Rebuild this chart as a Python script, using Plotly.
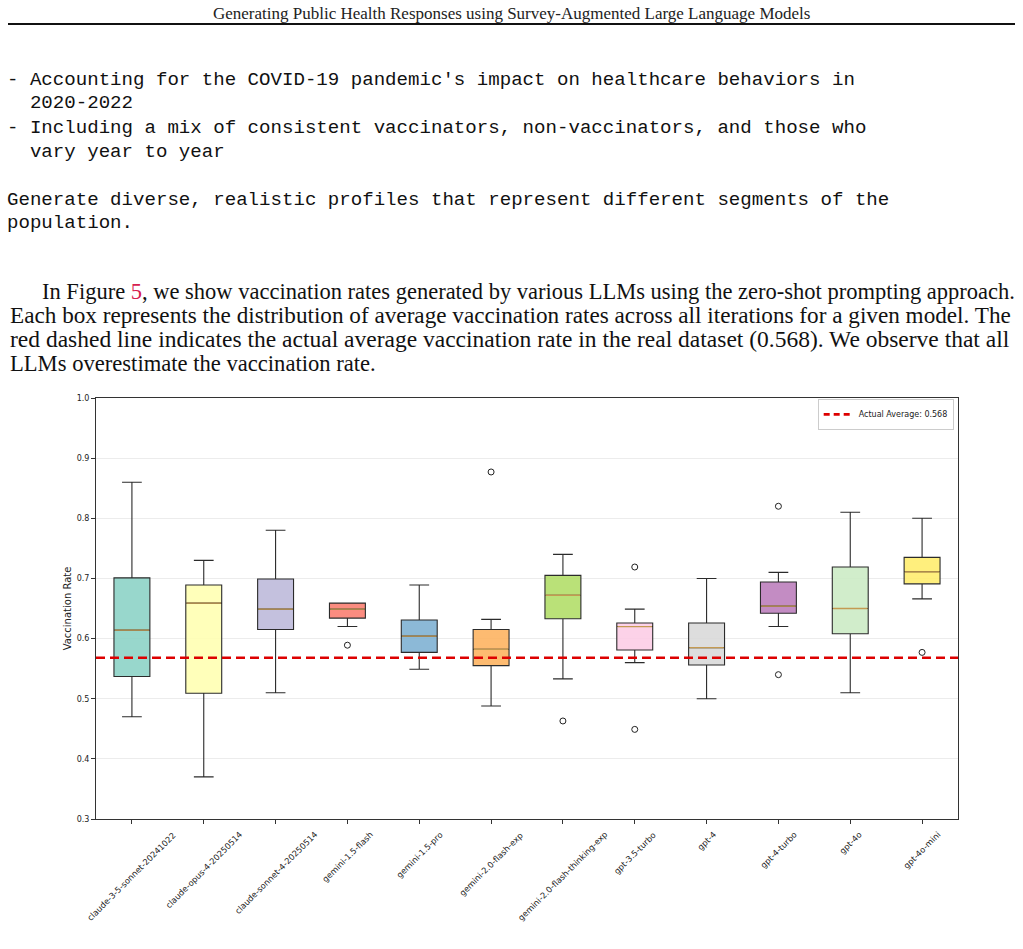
import plotly.graph_objects as go

models = ["claude-3-5-sonnet-20241022", "claude-opus-4-20250514", "claude-sonnet-4-20250514",
          "gemini-1.5-flash", "gemini-1.5-pro", "gemini-2.0-flash-exp", "gemini-2.0-flash-thinking-exp",
          "gpt-3.5-turbo", "gpt-4", "gpt-4-turbo", "gpt-4o", "gpt-4o-mini"]
lower_whisker = [0.470, 0.370, 0.510, 0.620, 0.549, 0.488, 0.533, 0.560, 0.500, 0.620, 0.510, 0.666]
q1 = [0.537, 0.509, 0.615, 0.634, 0.577, 0.555, 0.633, 0.581, 0.556, 0.642, 0.608, 0.691]
median = [0.614, 0.659, 0.649, 0.649, 0.604, 0.582, 0.672, 0.620, 0.585, 0.654, 0.650, 0.711]
q3 = [0.701, 0.689, 0.699, 0.659, 0.631, 0.615, 0.705, 0.626, 0.626, 0.694, 0.719, 0.735]
upper_whisker = [0.860, 0.730, 0.780, 0.659, 0.689, 0.632, 0.740, 0.649, 0.700, 0.710, 0.810, 0.800]
outlier_model_idx = [3, 5, 6, 7, 7, 9, 9, 11]
outlier_values = [0.589, 0.877, 0.463, 0.719, 0.449, 0.820, 0.540, 0.577]
actual_average = 0.568
colors = ["#8dd3c7", "#ffffb3", "#bebada", "#fb8072", "#80b1d3", "#fdb462",
          "#b3de69", "#fccde5", "#d9d9d9", "#bc80bd", "#ccebc5", "#ffed6f"]
y_ticks = [0.3, 0.4, 0.5, 0.6, 0.7, 0.8, 0.9, 1.0]

header = "Generating Public Health Responses using Survey-Augmented Large Language Models"
mono_lines = [
    "- Accounting for the COVID-19 pandemic's impact on healthcare behaviors in",
    "  2020-2022",
    "- Including a mix of consistent vaccinators, non-vaccinators, and those who",
    "  vary year to year",
    "",
    "Generate diverse, realistic profiles that represent different segments of the",
    "population.",
]
body_lines = [
    "In Figure <span style='color:#d6204f'>5</span>, we show vaccination rates generated by various LLMs using the zero-shot prompting approach.",
    "Each box represents the distribution of average vaccination rates across all iterations for a given model. The",
    "red dashed line indicates the actual average vaccination rate in the real dataset (0.568). We observe that all",
    "LLMs overestimate the vaccination rate.",
]

W, H = 1023, 949
L, R, T, B = 96, 958, 398, 819


def hx(px):
    return (px - L) / (R - L)


def vy(py):
    return (B - py) / (B - T)


def hex_rgba(h, a):
    h = h.lstrip("#")
    return "rgba(%d,%d,%d,%.2f)" % (int(h[0:2], 16), int(h[2:4], 16), int(h[4:6], 16), a)


fig = go.Figure()
box_w = 0.5
for i, m in enumerate(models):
    fig.add_trace(go.Box(
        x=[i], q1=[q1[i]], median=[median[i]], q3=[q3[i]],
        lowerfence=[lower_whisker[i]], upperfence=[upper_whisker[i]],
        width=box_w, whiskerwidth=0.55, name=m,
        fillcolor=hex_rgba(colors[i], 0.9),
        line=dict(color="#2b2b2b", width=1.1),
        showlegend=False, hoverinfo="skip",
    ))
    fig.add_shape(type="line", xref="x", yref="y", x0=i - box_w / 2 + 0.01, x1=i + box_w / 2 - 0.01,
                  y0=median[i], y1=median[i], line=dict(color="#c49a52", width=1.3), layer="above")

fig.add_trace(go.Scatter(
    x=outlier_model_idx, y=outlier_values, mode="markers",
    marker=dict(symbol="circle-open", size=6, color="#222", line=dict(width=1)),
    showlegend=False, hoverinfo="skip",
))

fig.add_shape(type="line", xref="paper", yref="y", x0=0, x1=1, y0=actual_average, y1=actual_average,
              line=dict(color="#dd0000", width=2.6, dash="9px,5px"), layer="above")
fig.add_trace(go.Scatter(x=[None], y=[None], mode="lines", name="Actual Average: %.3f" % actual_average,
                         line=dict(color="#dd0000", width=2.6, dash="6px,4px")))

annotations = []
annotations.append(dict(text=header, x=hx(511), y=vy(13), xref="paper", yref="paper",
                        xanchor="center", yanchor="middle", showarrow=False,
                        font=dict(family="Liberation Serif", size=17, color="#222")))
mono_y = [80, 103, 128, 152, 176, 200, 223]
for t, py in zip(mono_lines, mono_y):
    if not t:
        continue
    annotations.append(dict(text=t.replace(" ", "&nbsp;"), x=hx(5), y=vy(py), xref="paper", yref="paper",
                            xanchor="left", yanchor="middle", showarrow=False,
                            font=dict(family="Liberation Mono", size=19.1, color="#111")))
body_y = [291, 315, 339, 363]
body_x = [40, 8, 8, 8]
body_size = [22.5, 23.2, 23.5, 22.6]
for t, px, py, fs in zip(body_lines, body_x, body_y, body_size):
    annotations.append(dict(text=t, x=hx(px), y=vy(py), xref="paper", yref="paper",
                            xanchor="left", yanchor="middle", showarrow=False,
                            font=dict(family="Liberation Serif", size=fs, color="#111")))

# x tick labels: rotated 45 degrees, centred under each tick
for i, m in enumerate(models):
    annotations.append(dict(text=m, x=i, y=-8 / (B - T), xref="x", yref="paper",
                            xanchor="center", yanchor="top", textangle=-45, showarrow=False,
                            font=dict(family="DejaVu Sans", size=8.3, color="#222")))

fig.add_shape(type="line", xref="paper", yref="paper", x0=hx(8), x1=hx(1015), y0=vy(24), y1=vy(24),
              line=dict(color="#111", width=2.2))

fig.update_layout(
    width=W, height=H,
    margin=dict(l=L, r=W - R, t=T, b=H - B, pad=0),
    paper_bgcolor="white", plot_bgcolor="white",
    font=dict(family="DejaVu Sans", size=8, color="#222"),
    annotations=annotations,
    boxmode="overlay",
    legend=dict(x=0.995, y=0.998, xanchor="right", yanchor="top", bgcolor="white",
                bordercolor="#cccccc", borderwidth=1, font=dict(size=8, family="DejaVu Sans"),
                itemwidth=30, tracegroupgap=0),
    showlegend=True,
)
fig.update_xaxes(range=[-0.5, len(models) - 0.5], tickmode="array", tickvals=list(range(len(models))),
                 showticklabels=False, ticks="outside", ticklen=4, tickcolor="#333",
                 showline=True, linecolor="#333", linewidth=1, mirror=True, showgrid=False, zeroline=False)
fig.update_yaxes(range=[0.3, 1.0], tickmode="array", tickvals=y_ticks, ticktext=["%.1f" % v for v in y_ticks],
                 ticks="outside", ticklen=4, tickcolor="#333", showline=True, linecolor="#333", linewidth=1,
                 mirror=True, showgrid=True, gridcolor="rgba(200,200,200,0.35)", gridwidth=1, zeroline=False,
                 title=dict(text="Vaccination Rate", font=dict(size=10, family="DejaVu Sans"), standoff=3),
                 tickfont=dict(size=8, family="DejaVu Sans"))

fig.write_html("out.html")
